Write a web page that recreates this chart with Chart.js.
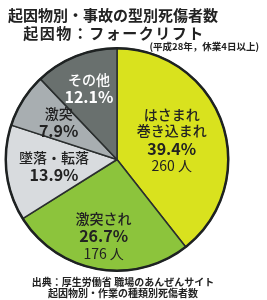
<!DOCTYPE html>
<html>
<head>
<meta charset="utf-8">
<script src="https://cdn.jsdelivr.net/npm/chart.js@4"></script>
<style>
  html, body { margin: 0; padding: 0; background: #fff; }
  #wrap { width: 267px; height: 300px; position: relative; }
</style>
</head>
<body>
<div id="wrap"><canvas id="myChart" width="267" height="300"></canvas></div>
<script>
// data
const categories = ['はさまれ巻き込まれ', '激突され', '墜落・転落', '激突', 'その他'];
const labelLines = [['はさまれ', '巻き込まれ'], ['激突され'], ['墜落・転落'], ['激突'], ['その他']];
const percents = [39.4, 26.7, 13.9, 7.9, 12.1];
const counts = ['260 人', '176 人', '', '', ''];
const sliceColors = ['#d9e21e', '#8cc43c', '#d8dbde', '#a8aeb1', '#69706e'];
const textColors = ['#222', '#222', '#222', '#222', '#fff'];
// where the label sits along the slice, as a share of the radius
const labelRadius = [0.52, 0.7, 0.57, 0.62, 0.68];

const titleLines = ['起因物別・事故の型別死傷者数', '起因物：フォークリフト'];
const subTitle = '(平成28年，休業4日以上)';
const sourceLines = ['出典：厚生労働省 職場のあんぜんサイト', '起因物別・作業の種類別死傷者数'];

const FONT = '"Noto Sans CJK JP", "Noto Sans", sans-serif';

// draws texts on the slices and round the chart
const textPlugin = {
  id: 'texts',
  afterDatasetsDraw(chart) {
    const ctx = chart.ctx;
    const arcs = chart.getDatasetMeta(0).data;
    ctx.save();
    ctx.textAlign = 'center';
    ctx.textBaseline = 'middle';

    arcs.forEach((arc, i) => {
      const mid = (arc.startAngle + arc.endAngle) / 2;
      const r = arc.outerRadius * labelRadius[i];
      const x = arc.x + Math.cos(mid) * r;
      const y = arc.y + Math.sin(mid) * r;

      let rows = [];
      labelLines[i].forEach(t => rows.push({ t, f: '500 14px ' + FONT, h: 16 }));
      rows.push({ t: percents[i].toFixed(1) + '%', f: 'bold 16px ' + FONT, h: 19 });
      if (counts[i]) rows.push({ t: counts[i], f: '14px ' + FONT, h: 16 });

      const total = rows.reduce((s, r) => s + r.h, 0);
      let yy = y - total / 2;
      ctx.fillStyle = textColors[i];
      rows.forEach(row => {
        ctx.font = row.f;
        ctx.fillText(row.t, x, yy + row.h / 2);
        yy += row.h;
      });
    });

    // heading
    ctx.fillStyle = '#222';
    ctx.font = 'bold 15px ' + FONT;
    ctx.fillText(titleLines[0], 113, 15);
    ctx.letterSpacing = '1.5px';
    ctx.fillText(titleLines[1], 114, 33);
    ctx.letterSpacing = '0px';
    ctx.font = 'bold 9.5px ' + FONT;
    ctx.textAlign = 'right';
    ctx.fillText(subTitle, 259, 46);

    // source
    ctx.textAlign = 'center';
    ctx.font = 'bold 10px ' + FONT;
    ctx.fillText(sourceLines[0], 123, 282);
    ctx.fillText(sourceLines[1], 123, 293);
    ctx.restore();
  }
};

// thick dark ring round the pie
const ringPlugin = {
  id: 'ring',
  afterDatasetsDraw(chart) {
    const arc = chart.getDatasetMeta(0).data[0];
    const ctx = chart.ctx;
    ctx.save();
    ctx.beginPath();
    ctx.arc(arc.x, arc.y, arc.outerRadius, 0, Math.PI * 2);
    ctx.lineWidth = 2.5;
    ctx.strokeStyle = '#1e2222';
    ctx.stroke();
    ctx.restore();
  }
};

const ctx = document.getElementById('myChart').getContext('2d');

new Chart(ctx, {
  type: 'pie',
  data: {
    labels: categories,
    datasets: [{
      data: percents,
      backgroundColor: sliceColors,
      borderColor: '#2a2e2e',
      borderWidth: 1.5
    }]
  },
  options: {
    responsive: false,
    animation: false,
    layout: { padding: { left: 5, right: 38, top: 47, bottom: 28 } },
    plugins: {
      legend: { display: false },
      tooltip: { enabled: false }
    }
  },
  plugins: [ringPlugin, textPlugin]
});
</script>
</body>
</html>
